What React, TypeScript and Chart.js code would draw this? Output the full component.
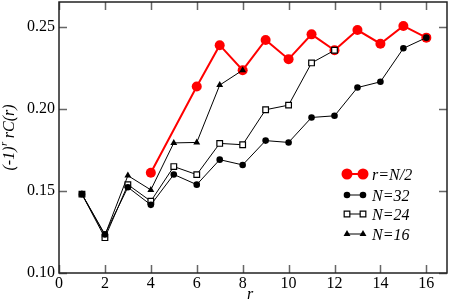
import { useEffect, useRef } from 'react';
import { Chart, registerables } from 'chart.js';

Chart.register(...registerables);

// ---- data ----
const rHalfR = [4, 6, 7, 8, 9, 10, 11, 12, 13, 14, 15, 16];
const rHalfC = [0.161, 0.2135, 0.2387, 0.2235, 0.2419, 0.2302, 0.2453, 0.2356, 0.2479, 0.2396, 0.2504, 0.2433];

const n32R = [1, 2, 3, 4, 5, 6, 7, 8, 9, 10, 11, 12, 13, 14, 15, 16];
const n32C = [0.148, 0.1235, 0.1522, 0.1415, 0.16, 0.1538, 0.169, 0.1658, 0.1806, 0.1795, 0.1947, 0.1957, 0.2129, 0.2164, 0.2368, 0.2433];

const n24R = [1, 2, 3, 4, 5, 6, 7, 8, 9, 10, 11, 12];
const n24C = [0.148, 0.1215, 0.1538, 0.1437, 0.1648, 0.1599, 0.1789, 0.1781, 0.1994, 0.2022, 0.2279, 0.2356];

const n16R = [1, 2, 3, 4, 5, 6, 7, 8];
const n16C = [0.148, 0.123, 0.1593, 0.1506, 0.1792, 0.1795, 0.2144, 0.2235];

const legendLabels = ['r=N/2', 'N=32', 'N=24', 'N=16'];
const xTitle = 'r';
const yTitleParts = ['(-1)', 'r', ' rC(r)'];

const SERIF = '"Liberation Serif", "Times New Roman", serif';

const zip = (xs: number[], ys: number[]) => xs.map((x, i) => ({ x, y: ys[i] }));

function drawMarker(ctx: CanvasRenderingContext2D, style: string, x: number, y: number, r: number, fill: string, stroke: string, lw: number) {
  ctx.save();
  ctx.fillStyle = fill;
  ctx.strokeStyle = stroke;
  ctx.lineWidth = lw;
  ctx.beginPath();
  if (style === 'rect') {
    const s = Math.SQRT1_2 * r;
    ctx.rect(x - s, y - s, 2 * s, 2 * s);
  } else if (style === 'triangle') {
    ctx.moveTo(x, y - r);
    ctx.lineTo(x + r * 0.866, y + r * 0.5);
    ctx.lineTo(x - r * 0.866, y + r * 0.5);
    ctx.closePath();
  } else {
    ctx.arc(x, y, r, 0, Math.PI * 2);
  }
  ctx.fill();
  if (lw > 0) ctx.stroke();
  ctx.restore();
}

const decoPlugin = {
  id: 'deco',
  beforeDatasetsDraw(chart: any) {
    const { ctx, chartArea: a, scales } = chart;
    ctx.save();
    // inward ticks
    ctx.strokeStyle = '#666';
    ctx.lineWidth = 1.5;
    const xs = scales.x;
    xs.ticks.forEach((t: any) => {
      const px = Math.round(xs.getPixelForValue(t.value)) + 0.5;
      const len = Math.round(t.value) % 2 === 0 ? 8 : 4;
      ctx.beginPath();
      ctx.moveTo(px, a.bottom);
      ctx.lineTo(px, a.bottom - len);
      ctx.moveTo(px, a.top);
      ctx.lineTo(px, a.top + len);
      ctx.stroke();
    });
    const ys = scales.y;
    ys.ticks.forEach((t: any) => {
      const py = Math.round(ys.getPixelForValue(t.value)) + 0.5;
      const len = Math.round(t.value * 100) % 5 === 0 ? 8 : 4;
      ctx.beginPath();
      ctx.moveTo(a.left, py);
      ctx.lineTo(a.left + len, py);
      ctx.moveTo(a.right, py);
      ctx.lineTo(a.right - len, py);
      ctx.stroke();
    });
    // frame
    ctx.strokeStyle = '#222';
    ctx.lineWidth = 1.5;
    ctx.strokeRect(a.left, a.top, a.right - a.left, a.bottom - a.top);
    ctx.restore();
  },
  afterDraw(chart: any) {
    const { ctx, chartArea: a } = chart;
    ctx.save();
    ctx.fillStyle = '#000';
    // x title
    ctx.font = `italic 16px ${SERIF}`;
    ctx.textAlign = 'center';
    ctx.textBaseline = 'alphabetic';
    ctx.fillText(xTitle, (a.left + a.right) / 2 - 3, 299);
    // y title (rotated, with superscript)
    ctx.save();
    ctx.translate(14, (a.top + a.bottom) / 2);
    ctx.rotate(-Math.PI / 2);
    ctx.textAlign = 'left';
    const mainFont = `italic 16px ${SERIF}`;
    const supFont = `italic 11px ${SERIF}`;
    ctx.font = mainFont;
    const w1 = ctx.measureText(yTitleParts[0]).width;
    const w3 = ctx.measureText(yTitleParts[2]).width;
    ctx.font = supFont;
    const w2 = ctx.measureText(yTitleParts[1]).width;
    let x0 = -(w1 + w2 + w3) / 2;
    ctx.font = mainFont;
    ctx.fillText(yTitleParts[0], x0, 0);
    x0 += w1;
    ctx.font = supFont;
    ctx.fillText(yTitleParts[1], x0 + 0.5, -7);
    x0 += w2;
    ctx.font = mainFont;
    ctx.fillText(yTitleParts[2], x0, 0);
    ctx.restore();

    // legend
    const rows = [174, 195, 214, 234];
    const lx0 = 347;
    const lx1 = 363;
    const tx = 372;
    chart.data.datasets.forEach((ds: any, i: number) => {
      const y = rows[i];
      ctx.save();
      ctx.strokeStyle = ds.borderColor;
      ctx.lineWidth = ds.borderWidth;
      ctx.beginPath();
      ctx.moveTo(lx0, y);
      ctx.lineTo(lx1, y);
      ctx.stroke();
      ctx.restore();
      const r = ds.legendRadius;
      drawMarker(ctx, ds.pointStyle, lx0, y, r, ds.pointBackgroundColor, ds.pointBorderColor, ds.pointBorderWidth);
      drawMarker(ctx, ds.pointStyle, lx1, y, r, ds.pointBackgroundColor, ds.pointBorderColor, ds.pointBorderWidth);
      ctx.font = `italic 16px ${SERIF}`;
      ctx.textAlign = 'left';
      ctx.textBaseline = 'alphabetic';
      ctx.fillStyle = '#000';
      ctx.fillText(legendLabels[i], tx, y + 5.5);
    });
    ctx.restore();
  },
};

export default function App() {
  const ref = useRef<HTMLCanvasElement>(null);
  useEffect(() => {
    if (!ref.current) return;
    const chart = new Chart(ref.current, {
      type: 'line',
      data: {
        datasets: [
          {
            label: legendLabels[0],
            data: zip(rHalfR, rHalfC),
            borderColor: '#ff0000',
            backgroundColor: '#ff0000',
            pointBackgroundColor: '#ff0000',
            pointBorderColor: '#ff0000',
            pointBorderWidth: 0,
            borderWidth: 2,
            pointRadius: 5,
            pointStyle: 'circle',
            legendRadius: 5.5,
            order: 4,
          } as any,
          {
            label: legendLabels[1],
            data: zip(n32R, n32C),
            borderColor: '#000',
            backgroundColor: '#000',
            pointBackgroundColor: '#000',
            pointBorderColor: '#000',
            pointBorderWidth: 0,
            borderWidth: 1,
            pointRadius: 3.3,
            pointStyle: 'circle',
            legendRadius: 3.3,
            order: 1,
          } as any,
          {
            label: legendLabels[2],
            data: zip(n24R, n24C),
            borderColor: '#000',
            backgroundColor: '#fff',
            pointBackgroundColor: '#fff',
            pointBorderColor: '#000',
            pointBorderWidth: 1.2,
            borderWidth: 1,
            pointRadius: 4,
            pointStyle: 'rect',
            legendRadius: 4,
            order: 2,
          } as any,
          {
            label: legendLabels[3],
            data: zip(n16R, n16C),
            borderColor: '#000',
            backgroundColor: '#000',
            pointBackgroundColor: '#000',
            pointBorderColor: '#000',
            pointBorderWidth: 0,
            borderWidth: 1,
            pointRadius: 4,
            pointStyle: 'triangle',
            legendRadius: 4,
            order: 3,
          } as any,
        ],
      },
      options: {
        responsive: false,
        animation: false,
        devicePixelRatio: 1,
        layout: { autoPadding: false, padding: { top: 2, right: 3, left: 0, bottom: 0 } },
        elements: { line: { tension: 0 } },
        plugins: {
          legend: { display: false },
          tooltip: { enabled: false },
        },
        scales: {
          x: {
            type: 'linear',
            min: 0,
            max: 16.9,
            grid: { display: false, drawTicks: false },
            border: { display: false },
            ticks: {
              stepSize: 1,
              includeBounds: false,
              autoSkip: false,
              maxRotation: 0,
              padding: 1,
              color: '#000',
              font: { family: SERIF, size: 16 },
              callback: (v: any) => (Math.round(v) % 2 === 0 ? String(Math.round(v)) : null),
            },
            afterFit: (s: any) => {
              s.height = 30;
              s.paddingLeft = 0;
              s.paddingRight = 0;
            },
          },
          y: {
            type: 'linear',
            min: 0.1,
            max: 0.265,
            grid: { display: false, drawTicks: false },
            border: { display: false },
            ticks: {
              stepSize: 0.01,
              includeBounds: false,
              autoSkip: false,
              padding: 4,
              color: '#000',
              font: { family: SERIF, size: 16 },
              callback: (v: any) => (Math.round(v * 100) % 5 === 0 ? Number(v).toFixed(2) : null),
            },
            afterFit: (s: any) => {
              s.width = 59;
              s.paddingTop = 0;
              s.paddingBottom = 0;
            },
          },
        },
      } as any,
      plugins: [decoPlugin],
    });
    return () => chart.destroy();
  }, []);
  return (
    <div style={{ position: 'absolute', left: 0, top: 0, width: 450, height: 303 }}>
      <canvas ref={ref} width={450} height={303} />
    </div>
  );
}
